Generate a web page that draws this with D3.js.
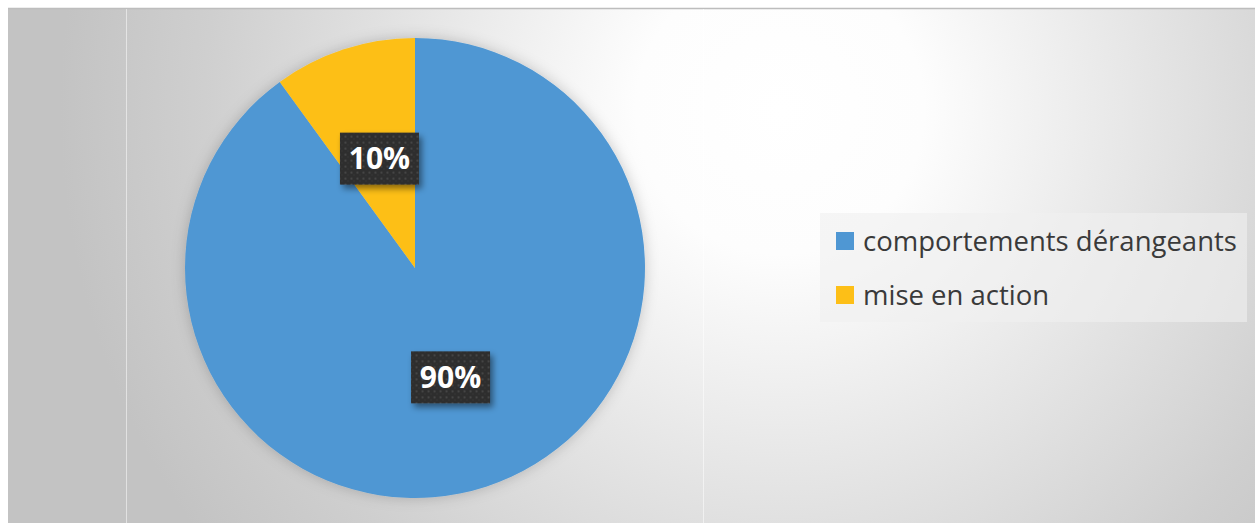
<!DOCTYPE html>
<html><head><meta charset="utf-8">
<script src="https://cdn.jsdelivr.net/npm/d3@7/dist/d3.min.js"></script>
<style>html,body{margin:0;padding:0;background:#fff;overflow:hidden}</style>
</head><body>
<svg id="chart" width="1255" height="523"></svg>
<script>
const categories = ["comportements dérangeants", "mise en action"];
const values = [90, 10];
const labels = ["90%", "10%"];
const colors = ["#4f97d3", "#fdbf17"];

const W = 1255, H = 523;
const svg = d3.select("#chart");
const defs = svg.append("defs");

const bg = defs.append("radialGradient").attr("id","bg").attr("gradientUnits","userSpaceOnUse")
  .attr("cx",780).attr("cy",110).attr("r",720);
[[0,"#ffffff"],[0.2,"#fdfdfd"],[0.5,"#e6e6e6"],[0.8,"#cfcfcf"],[1,"#c3c3c3"]]
  .forEach(([o,c])=>bg.append("stop").attr("offset",o).attr("stop-color",c));

const pieShadow = defs.append("filter").attr("id","pieShadow").attr("x","-20%").attr("y","-20%").attr("width","140%").attr("height","140%");
pieShadow.append("feDropShadow").attr("dx",0).attr("dy",0).attr("stdDeviation",7).attr("flood-color","#000").attr("flood-opacity",0.2);

const boxShadow = defs.append("filter").attr("id","boxShadow").attr("x","-30%").attr("y","-30%").attr("width","160%").attr("height","160%");
boxShadow.append("feDropShadow").attr("dx",3).attr("dy",4).attr("stdDeviation",3).attr("flood-color","#000").attr("flood-opacity",0.45);

const pat = defs.append("pattern").attr("id","dots").attr("patternUnits","userSpaceOnUse").attr("width",6).attr("height",6);
pat.append("rect").attr("width",6).attr("height",6).attr("fill","#2e2e2e");
pat.append("rect").attr("x",1).attr("y",1).attr("width",2).attr("height",2).attr("fill","#454545");
pat.append("rect").attr("x",4).attr("y",4).attr("width",1).attr("height",1).attr("fill","#3c3c3c");

// chart area
svg.append("rect").attr("x",8).attr("y",8).attr("width",W-8).attr("height",H-8).attr("fill","url(#bg)");
svg.append("line").attr("x1",8).attr("x2",W).attr("y1",8.5).attr("y2",8.5).attr("stroke","#bdbdbd").attr("stroke-width",1.5);
[126.5, 703.5].forEach(x=>svg.append("line").attr("x1",x).attr("x2",x).attr("y1",9).attr("y2",H)
  .attr("stroke","#ffffff").attr("stroke-opacity",0.5).attr("stroke-width",1));

// pie
const cx = 415, cy = 268, R = 230;
const pie = d3.pie().sort(null).value(d=>d)(values);
const arc = d3.arc().innerRadius(0).outerRadius(R);
const labelArc = d3.arc().innerRadius(R*0.5).outerRadius(R*0.5);
const g = svg.append("g").attr("transform",`translate(${cx},${cy})`);
g.append("g").attr("filter","url(#pieShadow)").selectAll("path").data(pie).join("path")
  .attr("d",arc).attr("fill",(d,i)=>colors[i]);

const lg = g.selectAll("g.lbl").data(pie).join("g").attr("class","lbl")
  .attr("transform",d=>{const c=labelArc.centroid(d);return `translate(${c[0]},${c[1]})`;});
lg.append("rect").attr("x",-39.5).attr("y",-26).attr("width",79).attr("height",52)
  .attr("fill","url(#dots)").attr("filter","url(#boxShadow)");
lg.append("text").attr("text-anchor","middle").attr("dy","0.36em")
  .attr("font-family","'Open Sans', sans-serif").attr("font-weight","bold").attr("font-size",30)
  .attr("fill","#ffffff").text((d,i)=>labels[i]);

// legend
svg.append("rect").attr("x",820).attr("y",213).attr("width",427).attr("height",109).attr("fill","#f0f0f0").attr("fill-opacity",0.6);
const leg = svg.append("g");
const rows = leg.selectAll("g").data(categories).join("g")
  .attr("transform",(d,i)=>`translate(836,${232 + i*54})`);
rows.append("rect").attr("width",18).attr("height",18).attr("fill",(d,i)=>colors[i]);
const txt = rows.append("text").attr("x",27).attr("y",9).attr("dy","0.35em")
  .attr("font-family","'Open Sans', sans-serif").attr("font-size",24).attr("fill","#3a3a3a").text(d=>d);
const w0 = txt.nodes()[0].getComputedTextLength();
const fs = 24 * 374 / w0;
txt.attr("font-size", fs);
</script>
</body></html>
